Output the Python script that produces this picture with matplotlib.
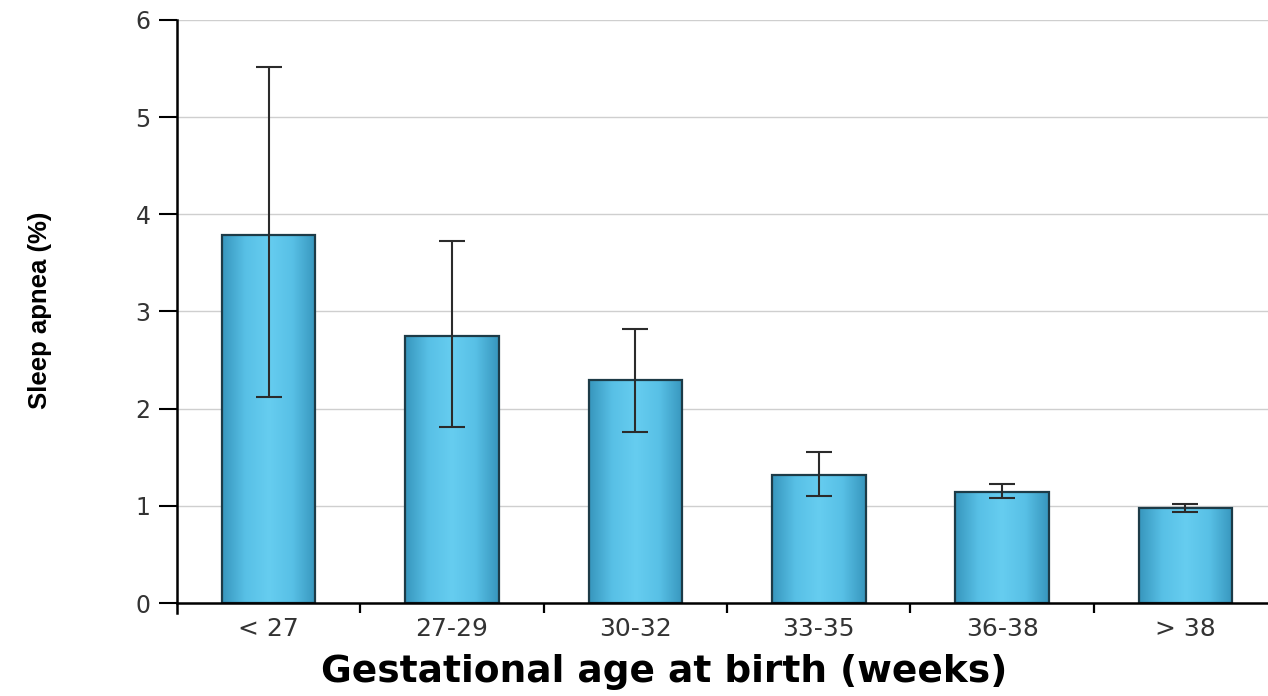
import matplotlib.pyplot as plt
import numpy as np
from matplotlib.colors import LinearSegmentedColormap

# data
groups = ['< 27', '27-29', '30-32', '33-35', '36-38', '> 38']
apnea = [3.79, 2.75, 2.30, 1.32, 1.14, 0.98]
err_low = [2.12, 1.81, 1.76, 1.10, 1.08, 0.94]
err_high = [5.52, 3.73, 2.82, 1.55, 1.22, 1.02]

fig = plt.figure(figsize=(12.68, 6.96), dpi=100)
ax = fig.add_axes([0.1396, 0.1336, 0.8604, 0.8377])

x = np.arange(len(groups))
bar_w = 0.51
bars = ax.bar(x, apnea, width=bar_w, color='#5fc7ea',
              edgecolor='#1d3b47', linewidth=1.6, zorder=2)

# horizontal shading inside each bar
shade = LinearSegmentedColormap.from_list(
    'shade', ['#3796bd', '#58c0e6', '#66cdf0', '#58c0e6', '#3796bd'])
grad = np.linspace(0, 1, 256).reshape(1, -1)
for b in bars:
    x0, y0 = b.get_x(), b.get_y()
    im = ax.imshow(grad, extent=(x0, x0 + b.get_width(), y0, y0 + b.get_height()),
                   aspect='auto', cmap=shade, zorder=2.1)
    im.set_clip_path(b)
for b in bars:
    b.set_facecolor('none')
    b.set_zorder(2.2)

lower = np.array(apnea) - np.array(err_low)
upper = np.array(err_high) - np.array(apnea)
ax.errorbar(x, apnea, yerr=[lower, upper], fmt='none', ecolor='#2b2b2b',
            elinewidth=1.5, capsize=9.5, capthick=1.5, zorder=3)

ax.set_xlim(-0.5, 5.45)
ax.set_ylim(0, 6)
ax.set_yticks(range(0, 7))
ax.yaxis.grid(True, color='#cfcfcf', linewidth=1.0, zorder=0)
ax.set_axisbelow(True)

for side in ['top', 'right']:
    ax.spines[side].set_visible(False)
ax.spines['left'].set_linewidth(1.8)
ax.spines['bottom'].set_linewidth(1.8)
ax.spines['left'].set_bounds(-0.1, 6)

ax.set_xticks(x)
ax.set_xticklabels(groups)
ax.set_xticks([0.5, 1.5, 2.5, 3.5, 4.5], minor=True)
ax.tick_params(axis='x', which='major', length=0, pad=10,
               labelsize=18, labelcolor='#333333')
ax.tick_params(axis='x', which='minor', length=7, width=1.6, direction='out')
ax.tick_params(axis='y', length=13, width=1.5, pad=6,
               labelsize=17, labelcolor='#333333')
for lab in ax.get_xticklabels() + ax.get_yticklabels():
    lab.set_family('DejaVu Sans')

fig.text(40 / 1268, 1 - 310 / 696, 'Sleep apnea (%)', rotation=90,
         ha='center', va='center', fontsize=18.5, fontweight='bold',
         family=['Liberation Sans Narrow', 'Liberation Sans', 'DejaVu Sans'])
fig.text(0.524, 0.034, 'Gestational age at birth (weeks)', ha='center',
         va='center', fontsize=27, fontweight='bold', family='DejaVu Sans')

fig.savefig('out.png', dpi=100)
